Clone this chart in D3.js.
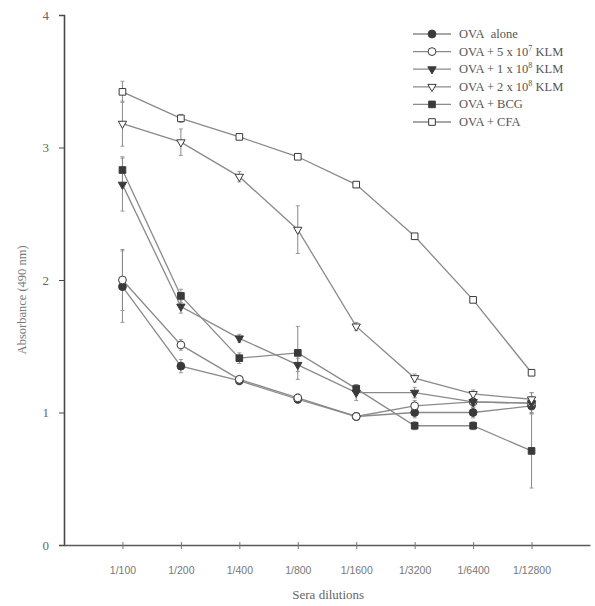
<!DOCTYPE html>
<html>
<head>
<meta charset="utf-8">
<script src="https://cdn.jsdelivr.net/npm/d3@7"></script>
<style>
  body { margin: 0; background: #fff; }
</style>
</head>
<body>
<div id="vis"></div>
<script>
let dilutions = ['1/100','1/200','1/400','1/800','1/1600','1/3200','1/6400','1/12800']

let ovaAlone = [1.95,1.35,1.24,1.10,0.97,1.00,1.00,1.05]
let klm5e7   = [2.00,1.51,1.25,1.11,0.97,1.05,1.08,1.07]
let klm1e8   = [2.72,1.80,1.56,1.36,1.15,1.15,1.08,1.07]
let klm2e8   = [3.18,3.04,2.78,2.38,1.65,1.26,1.14,1.10]
let bcg      = [2.83,1.88,1.41,1.45,1.18,0.90,0.90,0.71]
let cfa      = [3.42,3.22,3.08,2.93,2.72,2.33,1.85,1.30]

// standard errors
let ovaAloneErr = [0.27,0.05,0.03,0.03,0.03,0.04,0.04,0.05]
let klm5e7Err   = [0.23,0.04,0.03,0.03,0.03,0.04,0.04,0.08]
let klm1e8Err   = [0.20,0.05,0.03,0.05,0.06,0.04,0.04,0.05]
let klm2e8Err   = [0.17,0.10,0.04,0.18,0.03,0.03,0.03,0.05]
let bcgErr      = [0.10,0.05,0.04,0.20,0.03,0.03,0.03,0.28]
let cfaErr      = [0.08,0.03,0.02,0.02,0.02,0.02,0.02,0.02]

let yTicks = [0,1,2,3,4]

let series = [
  {name:'OVA\u00a0\u00a0alone', values:ovaAlone, err:ovaAloneErr, shape:'circle', filled:true},
  {name:'OVA + 5 x 10', sup:'7', tail:' KLM', values:klm5e7, err:klm5e7Err, shape:'circle', filled:false},
  {name:'OVA + 1 x 10', sup:'8', tail:' KLM', values:klm1e8, err:klm1e8Err, shape:'triangle', filled:true},
  {name:'OVA + 2 x 10', sup:'8', tail:' KLM', values:klm2e8, err:klm2e8Err, shape:'triangle', filled:false},
  {name:'OVA + BCG', values:bcg, err:bcgErr, shape:'square', filled:true},
  {name:'OVA + CFA', values:cfa, err:cfaErr, shape:'square', filled:false}
]

let width = 595, height = 606
let plotLeft = 64, plotRight = 590, plotTop = 15, plotBottom = 545

let svg = d3.select('#vis').append('svg')
  .attr('width', width)
  .attr('height', height)

let xScale = d3.scalePoint()
  .domain(dilutions)
  .range([plotLeft, plotRight])
  .padding(1)

let yScale = d3.scaleLinear()
  .domain([0, 4])
  .range([plotBottom, plotTop])

let axisColor = '#4a4a4a'
let lineColor = '#8a8a8a'
let markColor = '#3a3a3a'

// y axis
let yAxis = svg.append('g')
  .attr('transform', `translate(${plotLeft},0)`)
  .call(d3.axisLeft(yScale).tickValues(yTicks).tickSize(5).tickPadding(10).tickFormat(d3.format('d')))
yAxis.select('.domain').attr('stroke', axisColor).attr('stroke-width', 1.6)
yAxis.selectAll('.tick line').attr('stroke', axisColor)
yAxis.selectAll('.tick text')
  .attr('font-family', '"Liberation Serif", serif')
  .attr('font-size', 13)
  .attr('fill', '#666')

// x axis
let xAxis = svg.append('g')
  .attr('transform', `translate(0,${plotBottom})`)
  .call(d3.axisBottom(xScale).tickSize(4).tickPadding(18).tickSizeOuter(0))
xAxis.select('.domain').attr('stroke', '#5a5a5a').attr('stroke-width', 1.6)
xAxis.selectAll('.tick line').attr('stroke', '#777').attr('y1', -3)
xAxis.selectAll('.tick text')
  .attr('font-family', '"Liberation Sans", Arial, sans-serif')
  .attr('font-size', 10.5)
  .attr('fill', '#777')

// axis titles
svg.append('text')
  .attr('x', xScale('1/1600') - 28)
  .attr('y', 599)
  .attr('text-anchor', 'middle')
  .attr('font-family', '"Liberation Serif", serif')
  .attr('font-size', 13)
  .attr('fill', '#666')
  .text('Sera dilutions')

svg.append('text')
  .attr('transform', `translate(26,${yScale(1.85)}) rotate(-90)`)
  .attr('text-anchor', 'middle')
  .attr('font-family', '"Liberation Serif", serif')
  .attr('font-size', 12.5)
  .attr('fill', '#777')
  .text('Absorbance (490 nm)')

function symbolPath(shape) {
  if (shape === 'circle') return d3.symbol(d3.symbolCircle, 48)()
  if (shape === 'square') return d3.symbol(d3.symbolSquare, 44)()
  return d3.symbol(d3.symbolTriangle, 30)()
}

function drawMark(g, s, x, y) {
  g.append('path')
    .attr('d', symbolPath(s.shape))
    .attr('transform', `translate(${x},${y})` + (s.shape === 'triangle' ? ' rotate(180)' : ''))
    .attr('fill', s.filled ? markColor : '#fff')
    .attr('stroke', markColor)
    .attr('stroke-width', 1)
}

let line = d3.line()
  .x((d, i) => xScale(dilutions[i]))
  .y(d => yScale(d))

// lines
series.forEach(s => {
  svg.append('path')
    .datum(s.values)
    .attr('d', line)
    .attr('fill', 'none')
    .attr('stroke', lineColor)
    .attr('stroke-width', 1.3)
})

// error bars
series.forEach(s => {
  let g = svg.append('g')
  g.selectAll('line.err')
    .data(s.values)
    .join('line')
    .attr('class', 'err')
    .attr('x1', (d, i) => xScale(dilutions[i]))
    .attr('x2', (d, i) => xScale(dilutions[i]))
    .attr('y1', (d, i) => yScale(d + s.err[i]))
    .attr('y2', (d, i) => yScale(d - s.err[i]))
    .attr('stroke', '#888')
    .attr('stroke-width', 1)
  g.selectAll('line.capT')
    .data(s.values)
    .join('line')
    .attr('class', 'capT')
    .attr('x1', (d, i) => xScale(dilutions[i]) - 2)
    .attr('x2', (d, i) => xScale(dilutions[i]) + 2)
    .attr('y1', (d, i) => yScale(d + s.err[i]))
    .attr('y2', (d, i) => yScale(d + s.err[i]))
    .attr('stroke', '#999')
  g.selectAll('line.capB')
    .data(s.values)
    .join('line')
    .attr('class', 'capB')
    .attr('x1', (d, i) => xScale(dilutions[i]) - 2)
    .attr('x2', (d, i) => xScale(dilutions[i]) + 2)
    .attr('y1', (d, i) => yScale(d - s.err[i]))
    .attr('y2', (d, i) => yScale(d - s.err[i]))
    .attr('stroke', '#999')
})

// markers
series.forEach(s => {
  let g = svg.append('g')
  s.values.forEach((v, i) => drawMark(g, s, xScale(dilutions[i]), yScale(v)))
})

// legend
let legend = svg.append('g').attr('transform', 'translate(413,34)')
series.forEach((s, i) => {
  let row = legend.append('g').attr('transform', `translate(0,${i * 17.6})`)
  row.append('line')
    .attr('x1', 0).attr('x2', 38)
    .attr('stroke', lineColor).attr('stroke-width', 1.3)
  drawMark(row, s, 19, 0)
  let t = row.append('text')
    .attr('x', 46).attr('y', 4)
    .attr('font-family', '"Liberation Serif", serif')
    .attr('font-size', 12.5)
    .attr('fill', '#555')
  t.append('tspan').text(s.name)
  if (s.sup) {
    t.append('tspan').attr('dy', -5).attr('font-size', 8).text(s.sup)
    t.append('tspan').attr('dy', 5).text(s.tail)
  }
})
</script>
</body>
</html>
